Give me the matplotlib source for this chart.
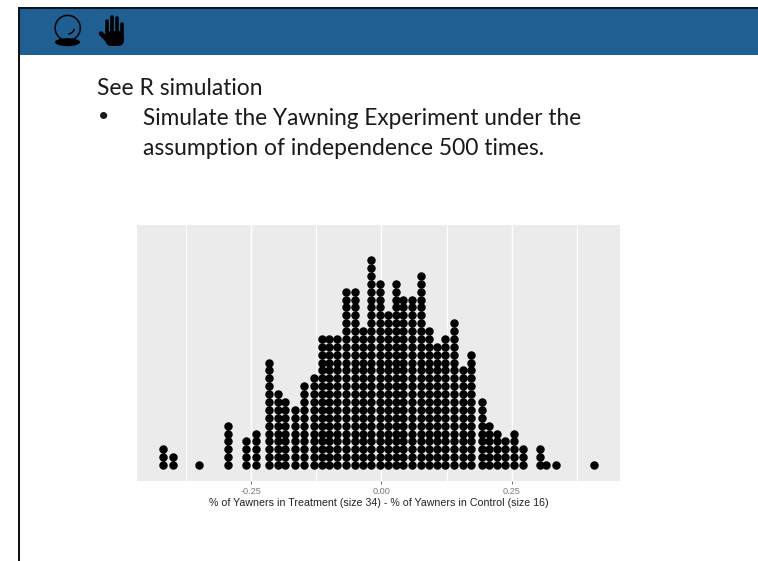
from __future__ import annotations

import matplotlib

matplotlib.use("Agg")
import matplotlib.pyplot as plt
import numpy as np
from matplotlib.patches import Circle, Ellipse, Arc, FancyBboxPatch, Rectangle

W, H = 758, 561

# differences in proportion at the centre of each dot column
diff_values = [
    -0.4176, -0.3997, -0.349, -0.294, -0.259, -0.240, -0.2158, -0.198, -0.184,
    -0.165, -0.148, -0.129, -0.1136, -0.0996, -0.0843, -0.0676, -0.0504, -0.0356,
    -0.019, -0.0025, 0.0128, 0.0282, 0.0421, 0.0594, 0.0755, 0.092, 0.106,
    0.1226, 0.139, 0.156, 0.172, 0.192, 0.207, 0.222, 0.2376, 0.254, 0.271,
    0.303, 0.3155, 0.3347, 0.408,
]
# number of simulations in each column, adds up to 500
dot_counts = [
    3, 2, 1, 6, 4, 5, 14, 10, 9,
    8, 11, 12, 17, 17, 17, 23, 23, 18,
    27, 24, 20, 24, 22, 22, 25, 18, 16,
    17, 19, 13, 15, 9, 6, 5, 4, 5, 3,
    3, 1, 1, 1,
]
major_ticks = [-0.25, 0.0, 0.25]
minor_grid = [-0.375, -0.125, 0.125, 0.375]
tick_labels = ["-0.25", "0.00", "0.25"]

x_title = "% of Yawners in Treatment (size 34) - % of Yawners in Control (size 16)"
intro_line = "See R simulation"
bullet_lines = [
    "Simulate the Yawning Experiment under the",
    "assumption of independence 500 times.",
]

HEADER = "#1F5F91"


def fit_width(fig, text, width_px: float) -> None:
    # scale the font so the rendered string spans the width seen in the slide
    renderer = fig.canvas.get_renderer()
    measured = text.get_window_extent(renderer).width
    text.set_fontsize(text.get_fontsize() * width_px / measured)


def draw_slide(fig) -> None:
    # whole figure in pixel coordinates, y pointing down like the screenshot
    bg = fig.add_axes([0, 0, 1, 1])
    bg.set_xlim(0, W)
    bg.set_ylim(H, 0)
    bg.axis("off")

    bg.add_patch(Rectangle((18, 8), W - 18, 47, fc=HEADER, ec="none"))
    bg.add_patch(Rectangle((17.5, 6.8), W - 17.5, 2.2, fc="#0b1620", ec="none"))
    bg.add_patch(Rectangle((17.5, 6.8), 2, H - 6.8, fc="#111111", ec="none"))

    # crystal ball
    bg.add_patch(Circle((67.7, 28), 12.6, fc="none", ec="black", lw=1.1))
    bg.add_patch(Arc((67.7, 27), 14, 14, theta1=15, theta2=85, ec="black", lw=1.1))
    bg.add_patch(Ellipse((67.5, 42.2), 25, 8, fc="black", ec="none"))

    # raised hand
    for x, top in [(106.7, 20.5), (111.7, 16.5), (116.7, 17.5), (121.7, 23.5)]:
        bg.plot([x, x], [top, 36], color="black", lw=2.6, solid_capstyle="round")
    bg.add_patch(FancyBboxPatch((105.5, 31), 18.5, 15, boxstyle="round,pad=0,rounding_size=6",
                                fc="black", ec="none"))
    bg.plot([101, 109], [33.5, 42], color="black", lw=3.2, solid_capstyle="round")

    body = dict(family="Lato", fontsize=15, color="#1a1a1a", va="baseline", ha="left")
    fit_width(fig, bg.text(97, 95, intro_line, **body), 165)
    bg.text(98, 122, "•", **{**body, "fontsize": 14})
    fit_width(fig, bg.text(143, 125, bullet_lines[0], **body), 439)
    fit_width(fig, bg.text(143, 155, bullet_lines[1], **body), 401)


def draw_dotplot(fig) -> None:
    left, right, top, bottom = 137, 620, 224.7, 480.7
    ax = fig.add_axes([left / W, 1 - bottom / H, (right - left) / W, (bottom - top) / H])
    ax.set_facecolor("#EBEBEB")
    for side in ax.spines.values():
        side.set_visible(False)

    ax.set_xlim(-0.468, 0.457)
    ax.set_ylim(-1.99, 30.5)
    for x in major_ticks:
        ax.axvline(x, color="white", lw=1.0, zorder=1)
    for x in minor_grid:
        ax.axvline(x, color="white", lw=0.8, zorder=1)

    xs = np.repeat(diff_values, dot_counts)
    ys = np.concatenate([np.arange(n) for n in dot_counts])
    ax.scatter(xs, ys, s=37, color="black", linewidths=0, zorder=3)

    ax.set_yticks([])
    ax.set_xticks(major_ticks)
    ax.set_xticklabels(tick_labels, family="Liberation Sans", fontsize=6.6, color="#7a7a7a")
    ax.tick_params(axis="x", length=2, width=0.6, color="#555555", pad=2.5)
    label = ax.set_xlabel(x_title, family="Liberation Sans", fontsize=7.8, color="#222222", labelpad=1.5)
    fit_width(fig, label, 338)


fig = plt.figure(figsize=(W / 100, H / 100), dpi=100, facecolor="white")
draw_slide(fig)
draw_dotplot(fig)
fig.savefig("out.png", dpi=100)
plt.close(fig)
